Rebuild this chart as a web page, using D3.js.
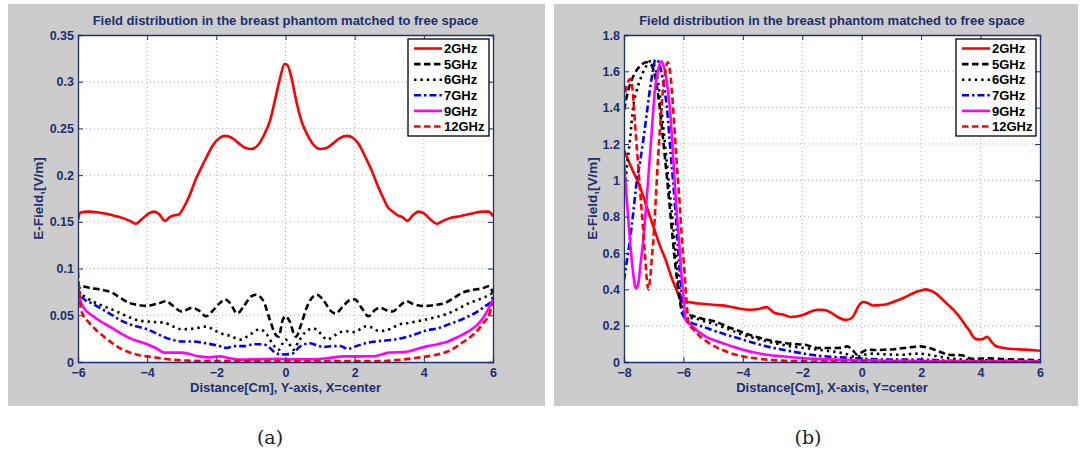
<!DOCTYPE html>
<html>
<head>
<meta charset="utf-8">
<script src="https://cdn.jsdelivr.net/npm/d3@7"></script>
<style>
  html, body { margin: 0; padding: 0; background: #ffffff; }
  svg { display: block; }
</style>
</head>
<body>
<svg id="chart" width="1080" height="456"></svg>
<script>
// ---- Series labels ----
const seriesNames = ["2GHz", "5GHz", "6GHz", "7GHz", "9GHz", "12GHz"];

// ---- Panel (a): field along Y-axis, X = center ----
const yAxisTicksX = [-6, -4, -2, 0, 2, 4, 6];
const yAxisTicksY = [0, 0.05, 0.1, 0.15, 0.2, 0.25, 0.3, 0.35];

const a_2GHz = [[-6,0.152],[-5.93,0.160],[-5.7,0.161],[-5.4,0.160],[-5.0,0.157],[-4.7,0.154],[-4.5,0.151],[-4.33,0.148],[-4.15,0.153],[-3.95,0.159],[-3.8,0.161],[-3.65,0.158],[-3.48,0.151],[-3.35,0.155],[-3.2,0.157],[-3.08,0.158],[-2.95,0.165],[-2.8,0.176],[-2.6,0.195],[-2.45,0.207],[-2.3,0.218],[-2.1,0.232],[-1.9,0.240],[-1.75,0.242],[-1.55,0.240],[-1.35,0.234],[-1.15,0.229],[-0.98,0.228],[-0.8,0.232],[-0.62,0.243],[-0.45,0.258],[-0.3,0.281],[-0.15,0.305],[-0.03,0.319],[0.05,0.318],[0.18,0.303],[0.32,0.278],[0.48,0.256],[0.65,0.242],[0.82,0.232],[1.0,0.228],[1.18,0.229],[1.38,0.234],[1.58,0.240],[1.78,0.242],[1.95,0.240],[2.12,0.233],[2.3,0.220],[2.48,0.206],[2.62,0.193],[2.82,0.176],[2.97,0.165],[3.1,0.161],[3.25,0.157],[3.38,0.155],[3.53,0.151],[3.68,0.157],[3.85,0.161],[4.0,0.159],[4.18,0.153],[4.38,0.148],[4.55,0.151],[4.75,0.154],[5.05,0.156],[5.4,0.159],[5.7,0.161],[5.88,0.161],[6,0.156]];
const a_5GHz = [[-6,0.074],[-5.93,0.081],[-5.6,0.079],[-5.28,0.077],[-5.0,0.074],[-4.75,0.068],[-4.5,0.063],[-4.25,0.061],[-4.0,0.060],[-3.85,0.061],[-3.65,0.063],[-3.45,0.065],[-3.25,0.060],[-3.0,0.054],[-2.7,0.058],[-2.5,0.055],[-2.3,0.049],[-2.1,0.055],[-1.9,0.063],[-1.75,0.067],[-1.6,0.063],[-1.4,0.052],[-1.2,0.060],[-1.0,0.070],[-0.85,0.072],[-0.65,0.066],[-0.45,0.045],[-0.3,0.030],[-0.2,0.027],[-0.08,0.045],[0.0,0.049],[0.1,0.045],[0.3,0.027],[0.45,0.040],[0.6,0.057],[0.75,0.068],[0.9,0.072],[1.1,0.066],[1.3,0.055],[1.45,0.052],[1.65,0.059],[1.85,0.066],[2.0,0.067],[2.2,0.058],[2.4,0.049],[2.6,0.056],[2.75,0.058],[2.95,0.055],[3.1,0.054],[3.3,0.060],[3.5,0.065],[3.7,0.062],[4.0,0.060],[4.3,0.061],[4.6,0.063],[4.85,0.068],[5.1,0.074],[5.4,0.077],[5.7,0.079],[5.88,0.081],[6,0.074]];
const a_6GHz = [[-6,0.076],[-5.88,0.072],[-5.68,0.067],[-5.35,0.061],[-5.0,0.056],[-4.65,0.050],[-4.3,0.045],[-3.9,0.043],[-3.5,0.042],[-3.25,0.038],[-3.0,0.035],[-2.6,0.036],[-2.3,0.038],[-2.1,0.035],[-1.9,0.031],[-1.6,0.028],[-1.3,0.024],[-1.0,0.030],[-0.75,0.035],[-0.55,0.030],[-0.4,0.021],[-0.2,0.013],[-0.08,0.020],[0.0,0.024],[0.1,0.020],[0.22,0.013],[0.38,0.022],[0.55,0.031],[0.8,0.036],[1.0,0.031],[1.2,0.024],[1.45,0.029],[1.7,0.033],[2.0,0.032],[2.3,0.038],[2.5,0.037],[2.7,0.033],[3.0,0.035],[3.28,0.040],[3.6,0.042],[4.0,0.045],[4.35,0.048],[4.7,0.052],[5.0,0.057],[5.3,0.063],[5.6,0.067],[5.8,0.070],[6,0.074]];
const a_7GHz = [[-6,0.086],[-5.93,0.072],[-5.85,0.068],[-5.55,0.062],[-5.28,0.056],[-5.0,0.050],[-4.78,0.045],[-4.4,0.039],[-4.0,0.035],[-3.65,0.029],[-3.3,0.024],[-3.0,0.022],[-2.7,0.022],[-2.3,0.020],[-1.9,0.017],[-1.7,0.015],[-1.5,0.017],[-1.2,0.017],[-0.9,0.019],[-0.65,0.019],[-0.45,0.015],[-0.3,0.010],[-0.1,0.008],[0.2,0.009],[0.4,0.016],[0.7,0.020],[0.9,0.018],[1.1,0.016],[1.4,0.017],[1.6,0.017],[1.8,0.014],[2.05,0.017],[2.3,0.020],[2.6,0.022],[2.9,0.023],[3.3,0.025],[3.7,0.029],[4.1,0.034],[4.4,0.036],[4.7,0.040],[5.0,0.044],[5.3,0.049],[5.55,0.054],[5.78,0.060],[5.93,0.064],[6,0.070]];
const a_9GHz = [[-6,0.080],[-5.95,0.068],[-5.85,0.059],[-5.6,0.050],[-5.28,0.042],[-5.0,0.036],[-4.78,0.031],[-4.4,0.024],[-4.0,0.019],[-3.75,0.015],[-3.5,0.010],[-3.0,0.010],[-2.5,0.006],[-2.2,0.005],[-1.9,0.006],[-1.6,0.004],[-1.3,0.0025],[-0.8,0.003],[-0.3,0.0035],[0.2,0.003],[0.7,0.003],[1.2,0.004],[1.7,0.006],[2.1,0.006],[2.5,0.006],[3.0,0.010],[3.5,0.011],[3.8,0.014],[4.1,0.017],[4.4,0.019],[4.7,0.022],[5.0,0.027],[5.3,0.033],[5.55,0.040],[5.75,0.049],[5.88,0.058],[5.95,0.063],[6,0.067]];
const a_12GHz = [[-6,0.097],[-5.96,0.075],[-5.92,0.058],[-5.85,0.050],[-5.7,0.043],[-5.5,0.035],[-5.28,0.028],[-5.0,0.020],[-4.75,0.014],[-4.49,0.010],[-4.2,0.007],[-4.0,0.006],[-3.6,0.004],[-3.3,0.0025],[-2.8,0.0015],[-2.3,0.001],[-1.0,0.001],[0.5,0.001],[1.7,0.001],[2.7,0.001],[3.2,0.002],[3.7,0.004],[4.1,0.006],[4.5,0.009],[4.8,0.013],[5.08,0.020],[5.35,0.027],[5.58,0.035],[5.75,0.043],[5.88,0.050],[5.95,0.058],[6,0.063]];

// ---- Panel (b): field along X-axis, Y = center ----
const xAxisTicksX = [-8, -6, -4, -2, 0, 2, 4, 6];
const xAxisTicksY = [0, 0.2, 0.4, 0.6, 0.8, 1, 1.2, 1.4, 1.6, 1.8];

const b_2GHz = [[-8,1.167],[-7.75,1.07],[-7.46,0.965],[-7.25,0.86],[-7.01,0.745],[-6.8,0.645],[-6.56,0.545],[-6.4,0.465],[-6.23,0.396],[-6.1,0.345],[-6.0,0.325],[-5.89,0.330],[-5.5,0.322],[-5.0,0.315],[-4.46,0.306],[-4.1,0.293],[-3.77,0.288],[-3.45,0.292],[-3.2,0.302],[-3.05,0.285],[-2.9,0.268],[-2.65,0.262],[-2.39,0.248],[-2.15,0.252],[-1.93,0.262],[-1.7,0.278],[-1.47,0.288],[-1.24,0.286],[-1.0,0.268],[-0.78,0.245],[-0.55,0.232],[-0.4,0.236],[-0.26,0.258],[-0.12,0.305],[0.05,0.330],[0.2,0.325],[0.37,0.311],[0.6,0.313],[0.83,0.318],[1.1,0.333],[1.4,0.352],[1.65,0.372],[1.86,0.388],[2.0,0.394],[2.15,0.400],[2.3,0.394],[2.44,0.383],[2.65,0.355],[2.9,0.316],[3.1,0.285],[3.36,0.233],[3.5,0.200],[3.64,0.169],[3.75,0.138],[3.85,0.126],[4.0,0.124],[4.1,0.128],[4.22,0.139],[4.35,0.115],[4.51,0.088],[4.75,0.078],[4.97,0.073],[5.5,0.068],[6,0.062]];
const b_5GHz = [[-8,1.387],[-7.85,1.50],[-7.65,1.585],[-7.45,1.630],[-7.25,1.650],[-7.1,1.640],[-6.95,1.57],[-6.8,1.405],[-6.65,1.17],[-6.46,0.855],[-6.35,0.66],[-6.24,0.488],[-6.15,0.37],[-6.07,0.29],[-6.0,0.255],[-5.84,0.258],[-5.4,0.24],[-4.92,0.222],[-4.45,0.19],[-4.0,0.163],[-3.6,0.14],[-3.2,0.123],[-2.8,0.11],[-2.39,0.100],[-1.93,0.095],[-1.7,0.085],[-1.47,0.077],[-1.0,0.077],[-0.67,0.078],[-0.49,0.086],[-0.32,0.068],[-0.15,0.040],[0.02,0.055],[0.2,0.068],[0.5,0.066],[0.83,0.068],[1.1,0.070],[1.4,0.077],[1.7,0.082],[1.98,0.086],[2.2,0.080],[2.44,0.068],[2.7,0.052],[2.9,0.040],[3.15,0.038],[3.36,0.037],[3.55,0.025],[3.7,0.017],[4.0,0.019],[4.28,0.020],[4.8,0.016],[5.43,0.013],[6,0.009]];
const b_6GHz = [[-8,0.93],[-7.9,1.08],[-7.8,1.22],[-7.69,1.405],[-7.58,1.49],[-7.46,1.552],[-7.3,1.615],[-7.12,1.655],[-6.95,1.62],[-6.82,1.50],[-6.69,1.313],[-6.55,1.08],[-6.41,0.855],[-6.3,0.67],[-6.19,0.488],[-6.1,0.35],[-6.02,0.25],[-5.9,0.24],[-5.72,0.242],[-5.3,0.225],[-4.92,0.206],[-4.45,0.178],[-4.0,0.150],[-3.6,0.131],[-3.2,0.114],[-2.8,0.099],[-2.39,0.086],[-1.9,0.076],[-1.47,0.068],[-1.1,0.060],[-0.78,0.053],[-0.5,0.043],[-0.32,0.031],[-0.1,0.030],[0.02,0.035],[0.2,0.044],[0.37,0.046],[0.8,0.042],[1.4,0.040],[1.7,0.045],[1.98,0.046],[2.25,0.040],[2.55,0.031],[2.85,0.023],[3.13,0.017],[3.6,0.012],[4.28,0.009],[5.0,0.006],[6,0.004]];
const b_7GHz = [[-8,0.45],[-7.9,0.56],[-7.8,0.671],[-7.69,0.82],[-7.58,0.983],[-7.46,1.10],[-7.35,1.222],[-7.24,1.36],[-7.13,1.497],[-7.02,1.61],[-6.95,1.665],[-6.85,1.655],[-6.7,1.56],[-6.56,1.405],[-6.42,1.13],[-6.28,0.855],[-6.2,0.67],[-6.12,0.488],[-6.05,0.36],[-5.99,0.25],[-5.9,0.228],[-5.72,0.215],[-5.3,0.192],[-4.92,0.169],[-4.45,0.145],[-4.0,0.123],[-3.6,0.103],[-3.2,0.086],[-2.8,0.072],[-2.39,0.059],[-1.9,0.045],[-1.47,0.035],[-0.9,0.027],[-0.32,0.022],[0.2,0.017],[0.83,0.013],[1.98,0.013],[3.13,0.006],[4.5,0.003],[6,0.002]];
const b_9GHz = [[-8,1.11],[-7.9,0.88],[-7.8,0.671],[-7.7,0.50],[-7.6,0.405],[-7.52,0.43],[-7.45,0.53],[-7.35,0.671],[-7.24,0.89],[-7.13,1.13],[-7.04,1.33],[-6.96,1.497],[-6.85,1.61],[-6.75,1.655],[-6.65,1.62],[-6.55,1.53],[-6.46,1.405],[-6.35,1.14],[-6.24,0.855],[-6.15,0.67],[-6.07,0.488],[-6.0,0.36],[-5.92,0.23],[-5.84,0.215],[-5.72,0.200],[-5.5,0.168],[-5.26,0.141],[-4.69,0.105],[-4.3,0.082],[-4.0,0.068],[-3.6,0.052],[-3.2,0.040],[-2.6,0.030],[-2.05,0.022],[-1.5,0.017],[-0.9,0.013],[0.0,0.010],[0.83,0.007],[2.5,0.005],[6,0.004]];
const b_12GHz = [[-8,1.43],[-7.9,1.53],[-7.78,1.557],[-7.7,1.48],[-7.63,1.313],[-7.55,1.14],[-7.46,0.946],[-7.37,0.76],[-7.29,0.58],[-7.23,0.45],[-7.18,0.40],[-7.12,0.46],[-7.05,0.60],[-7.01,0.671],[-6.93,0.90],[-6.85,1.13],[-6.77,1.33],[-6.69,1.497],[-6.6,1.61],[-6.53,1.650],[-6.45,1.60],[-6.35,1.405],[-6.24,1.13],[-6.12,0.855],[-6.04,0.65],[-5.96,0.488],[-5.88,0.30],[-5.82,0.205],[-5.7,0.185],[-5.5,0.150],[-5.15,0.105],[-4.85,0.078],[-4.57,0.059],[-4.3,0.043],[-4.0,0.031],[-3.6,0.021],[-3.2,0.013],[-2.6,0.007],[-2.05,0.004],[-1,0.002],[1,0.001],[6,0.001]];

// ---- Shared look ----
const navy = "#1c2f6e";
const sansBold = "'Liberation Sans', Arial, Helvetica, sans-serif";
const lineStyles = [
  { color: "#ff0000", dash: null },
  { color: "#000000", dash: "6.5,3.5" },
  { color: "#000000", dash: "2.4,4" },
  { color: "#0000ff", dash: "7,3,2.4,3" },
  { color: "#ff00ff", dash: null },
  { color: "#ff0000", dash: "6.5,3.5" }
];

const svg = d3.select("#chart");

function styleText(sel, size, color) {
  return sel.style("font-family", sansBold)
    .style("font-weight", "bold")
    .style("font-size", size + "px")
    .style("fill", color);
}

function drawPanel(cfg) {
  const g = svg.append("g");

  // grey figure background
  g.append("rect")
    .attr("x", cfg.bg[0]).attr("y", cfg.bg[1])
    .attr("width", cfg.bg[2]).attr("height", cfg.bg[3])
    .attr("fill", "#cccccc");

  const x = d3.scaleLinear().domain(cfg.xDomain).range([cfg.left, cfg.right]);
  const y = d3.scaleLinear().domain(cfg.yDomain).range([cfg.bottom, cfg.top]);

  // plot area
  g.append("rect")
    .attr("x", cfg.left).attr("y", cfg.top)
    .attr("width", cfg.right - cfg.left).attr("height", cfg.bottom - cfg.top)
    .attr("fill", "#ffffff");

  // dotted grid
  const grid = g.append("g").attr("stroke", "#aab0c8").attr("stroke-width", 1)
    .attr("stroke-dasharray", "1,3");
  cfg.xTicks.slice(1, -1).forEach(v => {
    grid.append("line").attr("x1", x(v)).attr("x2", x(v))
      .attr("y1", cfg.top).attr("y2", cfg.bottom);
  });
  cfg.yTicks.slice(1, -1).forEach(v => {
    grid.append("line").attr("y1", y(v)).attr("y2", y(v))
      .attr("x1", cfg.left).attr("x2", cfg.right);
  });

  // data lines
  const clipId = "clip-" + cfg.id;
  svg.append("clipPath").attr("id", clipId).append("rect")
    .attr("x", cfg.left).attr("y", cfg.top - 2)
    .attr("width", cfg.right - cfg.left).attr("height", cfg.bottom - cfg.top + 2);
  const line = d3.line().x(d => x(d[0])).y(d => y(d[1])).curve(d3.curveMonotoneX);
  const lines = g.append("g").attr("clip-path", `url(#${clipId})`);
  cfg.series.forEach((s, i) => {
    const st = lineStyles[i];
    lines.append("path")
      .attr("d", line(s))
      .attr("fill", "none")
      .attr("stroke", st.color)
      .attr("stroke-width", 2.6)
      .attr("stroke-linejoin", "round")
      .attr("stroke-dasharray", st.dash);
  });

  // axes: bottom/left with labels, top/right ticks only; ticks point inward
  const fmt = d3.format("");
  const axB = g.append("g").attr("transform", `translate(0,${cfg.bottom})`)
    .call(d3.axisBottom(x).tickValues(cfg.xTicks).tickSize(-5).tickPadding(7.5).tickFormat(fmt));
  const axT = g.append("g").attr("transform", `translate(0,${cfg.top})`)
    .call(d3.axisTop(x).tickValues(cfg.xTicks).tickSize(-5).tickFormat(""));
  const axL = g.append("g").attr("transform", `translate(${cfg.left},0)`)
    .call(d3.axisLeft(y).tickValues(cfg.yTicks).tickSize(-5).tickPadding(4).tickFormat(fmt));
  const axR = g.append("g").attr("transform", `translate(${cfg.right},0)`)
    .call(d3.axisRight(y).tickValues(cfg.yTicks).tickSize(-5).tickFormat(""));
  [axB, axT, axL, axR].forEach(a => {
    a.select(".domain").attr("stroke", navy).attr("stroke-width", 1.3);
    a.selectAll(".tick line").attr("stroke", navy).attr("stroke-width", 1);
    styleText(a.selectAll(".tick text"), 12.5, navy);
  });
  axB.selectAll(".tick text").attr("dy", "0.62em");

  const cx = (cfg.left + cfg.right) / 2;
  // title
  styleText(g.append("text"), 13, navy)
    .attr("x", cx).attr("y", 25)
    .attr("text-anchor", "middle")
    .text("Field distribution in the breast phantom matched to free space");
  // x label
  styleText(g.append("text"), 13, navy)
    .attr("x", cx).attr("y", 392)
    .attr("text-anchor", "middle")
    .text(cfg.xLabel);
  // y label
  styleText(g.append("text"), 13.5, navy)
    .attr("transform", `translate(${cfg.yLabelX},${(cfg.top + cfg.bottom) / 2}) rotate(-90)`)
    .attr("text-anchor", "middle")
    .attr("dy", "0.35em")
    .text("E-Field,[V/m]");

  // legend
  const lg = g.append("g");
  lg.append("rect")
    .attr("x", cfg.legend.x).attr("y", 39)
    .attr("width", cfg.legend.w).attr("height", 97)
    .attr("fill", "#ffffff").attr("stroke", "#000000").attr("stroke-width", 1.3);
  seriesNames.forEach((name, i) => {
    const yy = 48.5 + i * 15.6;
    const st = lineStyles[i];
    lg.append("line")
      .attr("x1", cfg.legend.x + 6).attr("x2", cfg.legend.x + 34)
      .attr("y1", yy).attr("y2", yy)
      .attr("stroke", st.color).attr("stroke-width", 2.6)
      .attr("stroke-dasharray", st.dash);
    styleText(lg.append("text"), 13, "#000000")
      .attr("x", cfg.legend.x + 36).attr("y", yy)
      .attr("dy", "0.36em")
      .text(name);
  });

  // caption below the panel
  svg.append("text")
    .attr("x", cfg.caption[0]).attr("y", 444)
    .attr("text-anchor", "middle")
    .style("font-family", "'DejaVu Serif', 'Liberation Serif', serif")
    .style("font-size", "19px")
    .style("fill", "#222222")
    .text(cfg.caption[1]);
}

drawPanel({
  id: "a",
  bg: [8, 4, 537, 402],
  left: 78, right: 493, top: 35, bottom: 362,
  xDomain: [-6, 6], yDomain: [0, 0.35],
  xTicks: yAxisTicksX, yTicks: yAxisTicksY,
  series: [a_2GHz, a_5GHz, a_6GHz, a_7GHz, a_9GHz, a_12GHz],
  xLabel: "Distance[Cm], Y-axis, X=center",
  yLabelX: 38,
  legend: { x: 408, w: 81 },
  caption: [270, "(a)"]
});

drawPanel({
  id: "b",
  bg: [554, 4, 524, 402],
  left: 624, right: 1040, top: 35, bottom: 362,
  xDomain: [-8, 6], yDomain: [0, 1.8],
  xTicks: xAxisTicksX, yTicks: xAxisTicksY,
  series: [b_2GHz, b_5GHz, b_6GHz, b_7GHz, b_9GHz, b_12GHz],
  xLabel: "Distance[Cm], X-axis, Y=center",
  yLabelX: 592,
  legend: { x: 956, w: 80 },
  caption: [808, "(b)"]
});
</script>
</body>
</html>
